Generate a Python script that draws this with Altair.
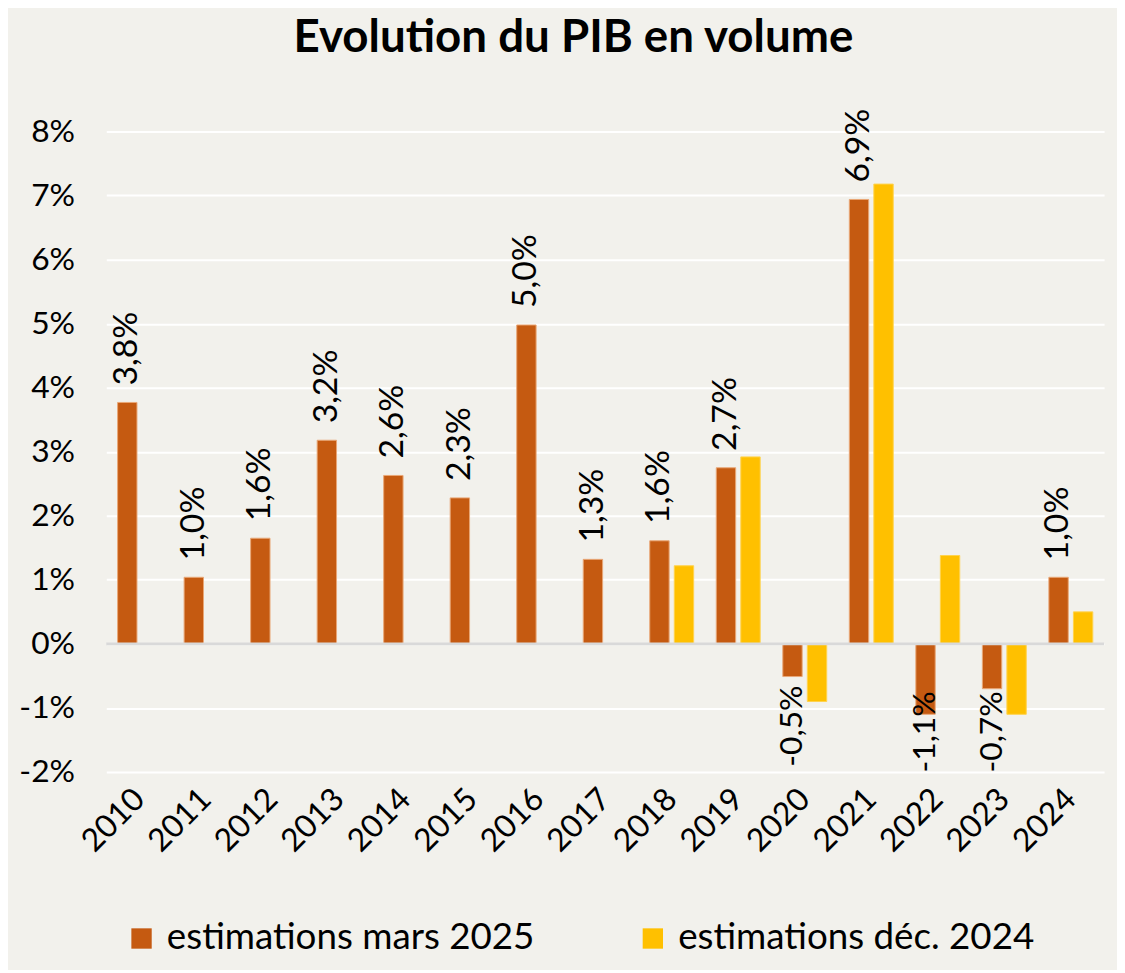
import altair as alt
import pandas as pd

years = ["2010", "2011", "2012", "2013", "2014", "2015", "2016", "2017",
         "2018", "2019", "2020", "2021", "2022", "2023", "2024"]
mars_2025 = [3.77, 1.04, 1.65, 3.18, 2.63, 2.28, 4.98, 1.32,
             1.61, 2.75, -0.51, 6.94, -1.10, -0.70, 1.04]
dec_2024 = [None, None, None, None, None, None, None, None,
            1.22, 2.92, -0.90, 7.18, 1.38, -1.10, 0.50]
labels_mars = ["3,8%", "1,0%", "1,6%", "3,2%", "2,6%", "2,3%", "5,0%", "1,3%",
               "1,6%", "2,7%", "-0,5%", "6,9%", "-1,1%", "-0,7%", "1,0%"]
series_names = ["estimations mars 2025", "estimations déc. 2024"]
series_colors = ["#c55a11", "#ffc000"]
y_ticks = [-2, -1, 0, 1, 2, 3, 4, 5, 6, 7, 8]

rows = []
for i, y in enumerate(years):
    rows.append({"year": y, "series": series_names[0], "value": mars_2025[i], "label": labels_mars[i]})
    if dec_2024[i] is not None:
        rows.append({"year": y, "series": series_names[1], "value": dec_2024[i], "label": ""})
df = pd.DataFrame(rows)

FONT = "Lato"

x_enc = alt.X("year:N", sort=years, title=None,
              scale=alt.Scale(paddingInner=0.34, paddingOuter=0.17),
              axis=alt.Axis(domain=False, ticks=False, labelAngle=-45, labelAlign="right",
                            labelBaseline="middle", labelPadding=22, labelFontSize=32,
                            labelFont=FONT, labelColor="#000000", grid=False))
xoff_enc = alt.XOffset("series:N", sort=series_names,
                       scale=alt.Scale(domain=series_names, paddingInner=0.21, paddingOuter=0))
y_enc = alt.Y("value:Q", title=None,
              scale=alt.Scale(domain=[-2, 8], nice=False, zero=False),
              axis=alt.Axis(values=y_ticks, labelExpr="datum.value + '%'", domain=False,
                            ticks=False, labelFontSize=32, labelFont=FONT, labelColor="#000000",
                            labelPadding=32, gridColor="#ffffff", gridWidth=2, gridOpacity=1))

base = alt.Chart(df)

bars = base.mark_bar(strokeWidth=1).encode(
    x=x_enc,
    xOffset=xoff_enc,
    y=y_enc,
    color=alt.Color("series:N", sort=series_names,
                    scale=alt.Scale(domain=series_names, range=series_colors),
                    legend=alt.Legend(title=None, orient="none", direction="horizontal",
                                      legendX=17, legendY=794, symbolType="square",
                                      symbolSize=420, symbolStrokeWidth=0,
                                      labelFontSize=37, labelFont=FONT, labelColor="#000000",
                                      columnPadding=100, labelOffset=7, labelLimit=700)),
    stroke=alt.condition(alt.datum.series == series_names[0],
                         alt.value("#e9a777"), alt.value("#ffd34d")),
)

zero = alt.Chart(pd.DataFrame({"z": [0]})).mark_rule(color="#d9d9d9", strokeWidth=3).encode(
    y=alt.Y("z:Q")
)

lab_base = base.transform_filter(alt.datum.series == series_names[0])

pos_labels = lab_base.transform_filter(alt.datum.value >= 0).mark_text(
    angle=270, align="left", baseline="middle", dx=17, fontSize=34, font=FONT, color="#000000"
).encode(x=x_enc, xOffset=xoff_enc, y=y_enc, text="label:N")

neg_labels = lab_base.transform_filter(alt.datum.value < 0).transform_calculate(
    ly="max(datum.value, -0.6)"
).mark_text(
    angle=270, align="right", baseline="middle", dx=-9, fontSize=32, font=FONT, color="#000000"
).encode(x=x_enc, xOffset=xoff_enc, y=alt.Y("ly:Q", scale=alt.Scale(domain=[-2, 8], nice=False, zero=False)),
         text="label:N")

chart = alt.layer(bars, zero, pos_labels, neg_labels).properties(
    width=1005,
    height=645,
    autosize=alt.AutoSizeParams(type="none"),
    padding={"left": 99, "top": 121, "right": 13, "bottom": 196},
    title=alt.TitleParams("Evolution du PIB en volume", fontSize=46, font=FONT,
                          fontWeight="bold", color="#000000", anchor="middle",
                          dx=-32, offset=47),
).configure(background="#f2f1ec").configure_view(stroke=None)

chart.save("out.html", embed_options={"renderer": "svg", "actions": False})
